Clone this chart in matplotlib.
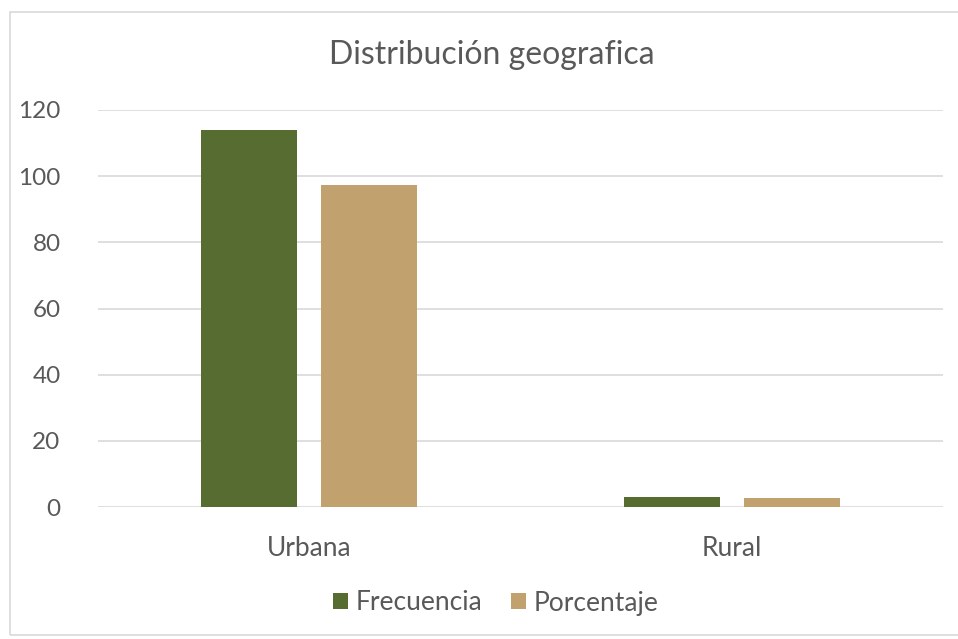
import matplotlib
matplotlib.use("Agg")
import matplotlib.pyplot as plt
import numpy as np

categories = ["Urbana", "Rural"]
series = ["Frecuencia", "Porcentaje"]
frecuencia = [114, 3]
porcentaje = [97.4, 2.6]
yticks = [0, 20, 40, 60, 80, 100, 120]

COLORS = ["#566C31", "#C1A16E"]
TEXT = "#595959"

plt.rcParams["font.family"] = ["Lato", "DejaVu Sans"]

W, H = 958, 639
fig = plt.figure(figsize=(W / 100, H / 100), dpi=100)
ax = fig.add_axes([98 / W, 1 - 507 / H, (943 - 98) / W, (507 - 110) / H])

# chart frame
fig.patches.append(plt.Rectangle((10 / W, 4 / H), 1.2, 1 - 16 / H,
                                 transform=fig.transFigure, fill=False,
                                 edgecolor="#D9D9D9", lw=1.2))

x = np.arange(len(categories))
bw = 0.227
off = 0.142
for vals, c, name, d in zip([frecuencia, porcentaje], COLORS, series, [-off, off]):
    ax.bar(x + d, vals, bw, color=c, label=name, zorder=3)

ax.set_xlim(-0.5, 1.5)
ax.set_ylim(0, 120)
ax.set_yticks(yticks)
ax.grid(axis="y", color="#D9D9D9", lw=1.2, zorder=0)
for s in ["top", "right", "left", "bottom"]:
    ax.spines[s].set_visible(False)
ax.tick_params(axis="both", length=0, labelsize=19, colors=TEXT)
ax.tick_params(axis="y", labelsize=17.5, pad=27)
ax.tick_params(axis="x", pad=21)
ax.set_xticks(x)
ax.set_xticklabels(categories)

fig.text(492 / W, 1 - 55 / H, "Distribución geografica", ha="center", va="center",
         fontsize=23, color=TEXT)
ax.legend(loc="center", bbox_to_anchor=(496 / W, 1 - 603 / H), bbox_transform=fig.transFigure,
          ncol=2, frameon=False, fontsize=19, labelcolor=TEXT,
          handlelength=0.55, handleheight=0.55, handletextpad=0.3, columnspacing=1.1)

fig.savefig("out.png", dpi=100)
